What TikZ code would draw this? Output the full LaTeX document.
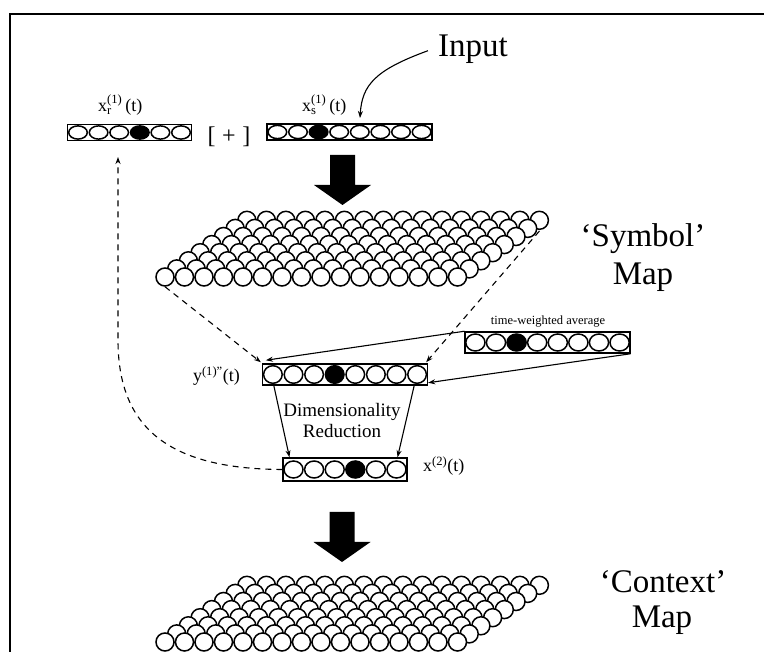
\documentclass[tikz,border=0pt]{standalone}
\usepackage{fontspec}
\usepackage{amsmath}
\setmainfont{Liberation Serif}
\usetikzlibrary{arrows.meta}

\tikzset{
  frameline/.style={line width=2pt},
  vecframe/.style={draw, line width=1.5pt, inner sep=0pt, rectangle},
  unitcirc/.style={line width=1.5pt},
  mapcell/.style={circle, draw, fill=white, line width=1.5pt, minimum size=18pt, inner sep=0pt},
  conn/.style={line width=1.1pt, -{Stealth[length=7pt,width=5pt]}},
  dconn/.style={conn, dash pattern=on 6pt off 5pt},
  bigtitle/.style={font=\fontsize{33}{36}\selectfont, inner sep=0pt},
  label/.style={font=\fontsize{18}{20}\selectfont, inner sep=0pt},
  tiny label/.style={font=\fontsize{12.5}{14}\selectfont, inner sep=0pt},
}

% a row of units in a box: name, cx, cy, count, filled unit, box height, rx, ry
\newcommand{\unitvec}[8]{%
  \node[vecframe, minimum width=#4*20.6pt, minimum height=#6pt] (#1) at (#2,#3) {};
  \foreach \k in {1,...,#4}{%
    \pgfmathsetmacro\ux{#2+(\k-(#4+1)/2)*20.6}%
    \ifnum\k=#5 \def\ufill{black}\else\def\ufill{white}\fi
    \draw[unitcirc, fill=\ufill] (\ux,#3) ellipse [x radius=#7pt, y radius=#8pt];
  }%
}

% an 8 x 16 sheet of overlapping units; prefix, y of the front row
\newcommand{\unitmap}[2]{%
  \foreach \r in {7,6,...,0}{%
    \foreach \c in {0,...,15}{%
      \node[mapcell] (#1-\r-\c) at ({165+19.5*\c+11.7*\r},{#2-8.1*\r}) {};
    }%
  }%
}

% solid block arrow: x of centre, top of shaft
\newcommand{\blockarrow}[2]{%
  \fill (#1-12.5,#2) -- (#1+12.5,#2) -- (#1+12.5,#2+30) -- (#1+28.5,#2+30)
        -- (#1,#2+50) -- (#1-28.5,#2+30) -- (#1-12.5,#2+30) -- cycle;
}

\begin{document}
\begin{tikzpicture}[x=1pt,y=-1pt]
  \useasboundingbox (0,0) rectangle (764,652);

  % frame
  \draw[frameline] (10,652) -- (10,14) -- (764,14);

  % input vectors
  \unitvec{xr}{129.5}{132.5}{6}{4}{16}{9.3}{6.6}
  \unitvec{xs}{349.5}{132}{8}{3}{16}{9.3}{6.6}
  \node[font=\fontsize{24}{26}\selectfont, inner sep=0pt] (plus) at (229,137) {[\;+\;]};

  \node[label, anchor=base west] (lxr) at (98,112) {$\text{x}^{\text{(1)}}_{\text{r}}$\,(t)};
  \node[label, anchor=base west] (lxs) at (302,112) {$\text{x}^{\text{(1)}}_{\text{s}}$\,(t)};

  \node[bigtitle, anchor=base] (input) at (473,57) {Input};
  \coordinate (intip) at (360,118);
  \draw[conn] (input.west) ++(-10,1) .. controls (375,70) and (362,85) .. (intip);

  % into the symbol map
  \blockarrow{342.5}{155}
  \unitmap{sm}{277}
  \node[bigtitle, anchor=base] (smt1) at (643,247) {‘Symbol’};
  \node[bigtitle, anchor=base] (smt2) at (643,285) {Map};

  % averaged symbol-map response
  \unitvec{yv}{345}{374.5}{8}{4}{21}{9.3}{8.8}
  \node[label, anchor=base east] (lyv) at (240,382) {$\text{y}^{\text{(1)''}}$(t)};

  \unitvec{tw}{547.5}{342.5}{8}{3}{21}{9.6}{8.5}
  \node[tiny label, anchor=base] (ltw) at (548,325) {time-weighted average};

  \draw[dconn] (sm-0-0.south) -- ([xshift=-1pt,yshift=1pt]yv.north west);
  \draw[dconn] ([yshift=-1pt]sm-7-15.south) -- ([xshift=-2pt,yshift=1pt]yv.north east);
  \draw[conn] (tw.north west) -- ([xshift=4pt,yshift=3pt]yv.north west);
  \draw[conn] (tw.south east) -- ([yshift=3pt]yv.south east);

  % dimensionality reduction
  \unitvec{xt}{345}{469.5}{6}{4}{23}{9.5}{8.5}
  \node[label, anchor=base west] (lxt) at (423,472) {$\text{x}^{\text{(2)}}$(t)};

  \draw[conn] ([xshift=12pt]yv.south west) -- ([xshift=7pt]xt.north west);
  \draw[conn] ([xshift=-14pt]yv.south east) -- ([xshift=-10pt]xt.north east);
  \node[font=\fontsize{19}{21}\selectfont, inner sep=0pt, anchor=base] (dr1) at (342,417) {Dimensionality};
  \node[font=\fontsize{19}{21}\selectfont, inner sep=0pt, anchor=base] (dr2) at (342,438) {Reduction};

  % recurrent feedback to the context input
  \coordinate (xrtip) at (118,157);
  \draw[dconn] (xt.west) .. controls (165,469) and (118,425) .. (118,340) -- (xrtip);

  % into the context map
  \blockarrow{342}{512}
  \unitmap{cm}{642}
  \node[bigtitle, anchor=base] (cmt1) at (663,592) {‘Context’};
  \node[bigtitle, anchor=base] (cmt2) at (662,627) {Map};
\end{tikzpicture}
\end{document}
